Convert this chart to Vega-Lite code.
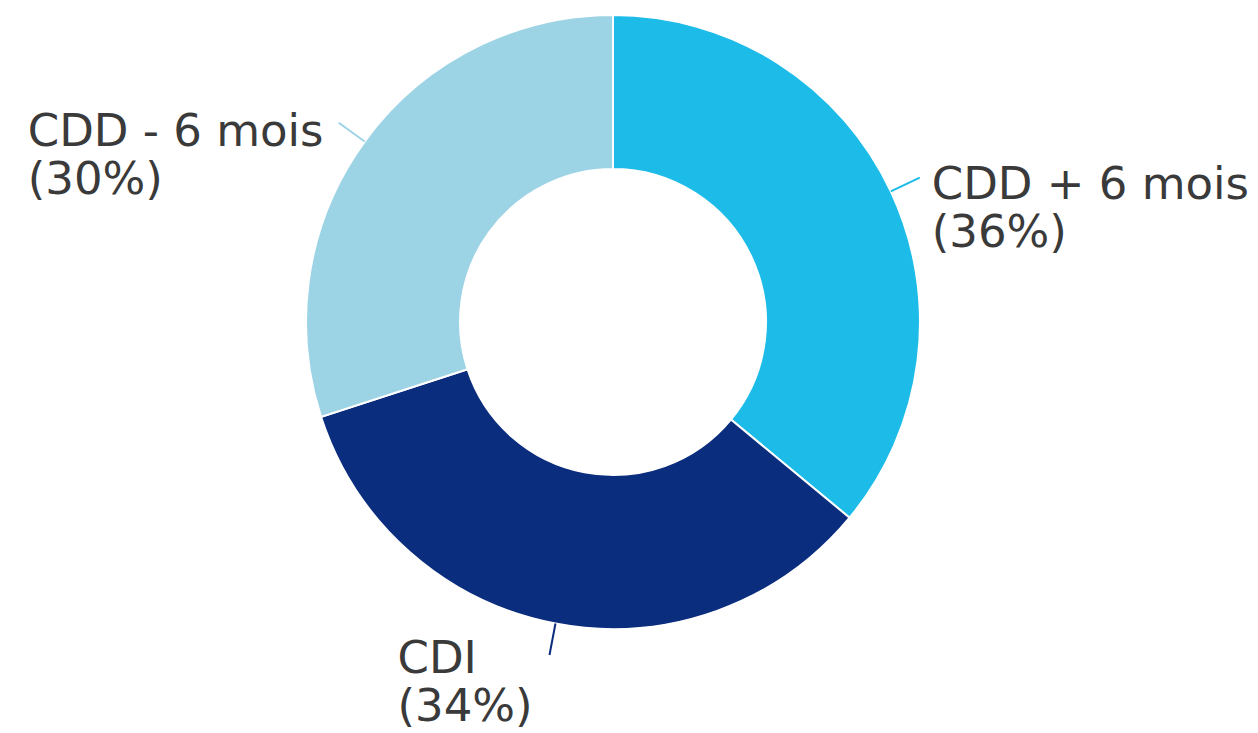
{
  "$schema": "https://vega.github.io/schema/vega-lite/v6.json",
  "width": 1226,
  "height": 644,
  "autosize": {"type": "none"},
  "padding": {"left": 0, "top": 0, "right": 32, "bottom": 89},
  "background": "white",
  "config": {"view": {"stroke": null}},
  "data": {
    "values": [
      {"cat": "CDD + 6 mois", "value": 36, "label": "CDD + 6 mois\n(36%)"},
      {"cat": "CDI", "value": 34, "label": "CDI\n(34%)"},
      {"cat": "CDD - 6 mois", "value": 30, "label": "CDD - 6 mois\n(30%)"}
    ]
  },
  "encoding": {
    "theta": {"field": "value", "type": "quantitative", "stack": true},
    "order": {"field": "value", "sort": "descending"},
    "color": {
      "field": "cat",
      "type": "nominal",
      "scale": {"domain": ["CDD + 6 mois", "CDI", "CDD - 6 mois"], "range": ["#1CBBE8", "#0B2D7E", "#9CD3E5"]},
      "legend": null
    }
  },
  "layer": [
    {
      "mark": {"type": "arc", "stroke": "white", "strokeWidth": 2},
      "encoding": {"radius": {"value": 307}, "radius2": {"value": 153}}
    },
    {
      "mark": {"type": "arc", "filled": false, "padAngle": 3, "strokeWidth": 2},
      "encoding": {"radius": {"value": 339}, "radius2": {"value": 307}}
    },
    {
      "mark": {"type": "text", "align": "left", "baseline": "alphabetic", "dx": 12, "dy": 21, "font": "DejaVu Sans", "fontSize": 45, "lineHeight": 48, "lineBreak": "\n"},
      "encoding": {
        "radius": {"value": 339},
        "color": {"value": "#3a3a3a"},
        "text": {"condition": {"test": "datum.cat === 'CDD + 6 mois'", "field": "label", "type": "nominal"}, "value": ""}
      }
    },
    {
      "mark": {"type": "text", "align": "left", "baseline": "alphabetic", "dx": -152, "dy": 18, "font": "DejaVu Sans", "fontSize": 45, "lineHeight": 48, "lineBreak": "\n"},
      "encoding": {
        "radius": {"value": 339},
        "color": {"value": "#3a3a3a"},
        "text": {"condition": {"test": "datum.cat === 'CDI'", "field": "label", "type": "nominal"}, "value": ""}
      }
    },
    {
      "mark": {"type": "text", "align": "left", "baseline": "alphabetic", "dx": -311, "dy": 23, "font": "DejaVu Sans", "fontSize": 45, "lineHeight": 48, "lineBreak": "\n"},
      "encoding": {
        "radius": {"value": 339},
        "color": {"value": "#3a3a3a"},
        "text": {"condition": {"test": "datum.cat === 'CDD - 6 mois'", "field": "label", "type": "nominal"}, "value": ""}
      }
    }
  ]
}
